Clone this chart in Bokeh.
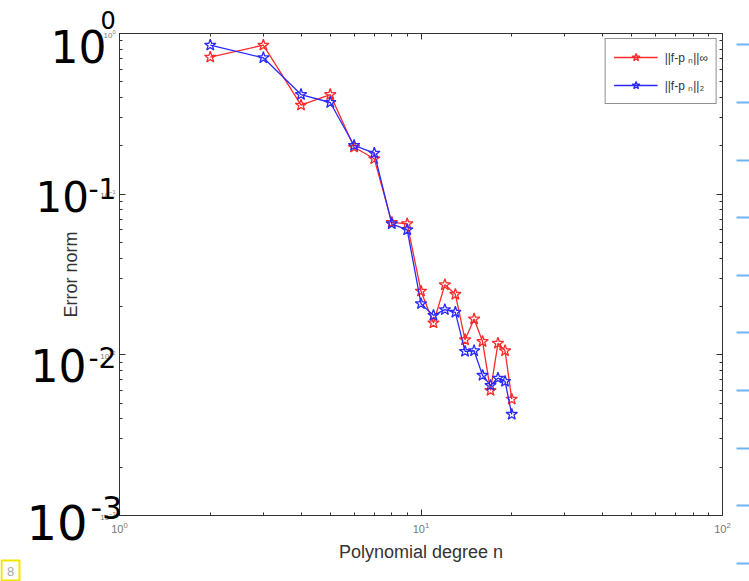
from bokeh.plotting import figure
from bokeh.layouts import column
from bokeh.models import LogAxis, FixedTicker, Legend, LegendItem, Range1d
from bokeh.core.properties import value
from bokeh.embed import file_html
from bokeh.resources import INLINE

# Polynomial degree and the two error norms of the interpolant
degree = [2, 3, 4, 5, 6, 7, 8, 9, 10, 11, 12, 13, 14, 15, 16, 17, 18, 19, 20]
err_inf = [0.712, 0.846, 0.358, 0.417, 0.196, 0.166, 0.0667, 0.0654, 0.0249,
           0.0158, 0.0273, 0.0238, 0.0124, 0.0167, 0.0121, 0.0060, 0.0118,
           0.0106, 0.0053]
err_two = [0.846, 0.706, 0.417, 0.372, 0.201, 0.180, 0.0654, 0.0600, 0.0208,
           0.0176, 0.0191, 0.0184, 0.0105, 0.0106, 0.00745, 0.00645, 0.00716,
           0.00683, 0.00426]

x_major = [1, 10, 100]
y_major = [1e-3, 1e-2, 1e-1, 1]

# hand-written decade notes beside the y axis
note_base = ["10", "10", "10", "10"]
note_exp = ["0", "-1", "-2", "-3"]

W, H = 749, 581
LEFT, RIGHT, TOP, BOTTOM = 119, 27, 33, 66

p = figure(width=W, height=H, x_axis_type="log", y_axis_type="log",
           x_range=(1, 100), y_range=(1e-3, 1),
           output_backend="svg", toolbar_location=None,
           min_border_left=LEFT, min_border_right=RIGHT,
           min_border_top=TOP, min_border_bottom=BOTTOM)
p.frame_align = False
p.xgrid.visible = False
p.ygrid.visible = False
p.outline_line_color = "#333333"
p.background_fill_color = "white"
p.border_fill_color = "white"


def minors(majors):
    out = []
    for m in majors[:-1]:
        out += [m * k for k in range(2, 10)]
    return out


def style_axis(ax, labels=True, size="10px"):
    ax.major_tick_in = 6
    ax.major_tick_out = 0
    ax.minor_tick_in = 3
    ax.minor_tick_out = 0
    ax.axis_line_color = "#333333"
    ax.major_tick_line_color = "#333333"
    ax.minor_tick_line_color = "#333333"
    ax.major_label_text_font = "Liberation Sans"
    ax.major_label_text_color = "#777777"
    ax.major_label_text_font_size = size if labels else "0px"
    if not labels:
        ax.major_label_text_alpha = 0


p.xaxis.ticker = FixedTicker(ticks=x_major, minor_ticks=minors(x_major))
p.yaxis.ticker = FixedTicker(ticks=y_major, minor_ticks=minors(y_major))
style_axis(p.xaxis[0], True, "11px")
style_axis(p.yaxis[0], True, "8px")
p.xaxis.major_label_standoff = 6
p.yaxis.major_label_standoff = 4

p.xaxis.axis_label = "Polynomial degree n"
p.yaxis.axis_label = "Error norm"
for ax in (p.xaxis[0], p.yaxis[0]):
    ax.axis_label_text_font = "Liberation Sans"
    ax.axis_label_text_font_size = "18px"
    ax.axis_label_text_font_style = "normal"
    ax.axis_label_text_color = "#333333"
p.xaxis.axis_label_standoff = 6
p.yaxis.axis_label_standoff = 16

top_ax = LogAxis(ticker=FixedTicker(ticks=x_major, minor_ticks=minors(x_major)))
right_ax = LogAxis(ticker=FixedTicker(ticks=y_major, minor_ticks=minors(y_major)))
style_axis(top_ax, False)
style_axis(right_ax, False)
p.add_layout(top_ax, "above")
p.add_layout(right_ax, "right")

# the two error curves
RED, BLUE = "#ff2a2a", "#2a2aff"
r_line = p.line(degree, err_inf, line_color=RED, line_width=1.3)
r_mark = p.scatter(degree, err_inf, marker="star", size=12, line_color=RED,
                   line_width=1.3, fill_color=None)
b_line = p.line(degree, err_two, line_color=BLUE, line_width=1.3)
b_mark = p.scatter(degree, err_two, marker="star", size=12, line_color=BLUE,
                   line_width=1.3, fill_color=None)

legend = Legend(items=[
    LegendItem(label="||f-p ₙ||∞", renderers=[r_line, r_mark]),
    LegendItem(label="||f-p ₙ||₂", renderers=[b_line, b_mark]),
], location="top_right")
legend.border_line_color = "#222222"
legend.border_line_width = 1
legend.label_text_font = "Liberation Sans"
legend.label_text_font_size = "12px"
legend.label_text_color = "#333333"
legend.glyph_width = 44
legend.glyph_height = 20
legend.label_standoff = 7
legend.padding = 8
legend.spacing = 8
legend.margin = 5
legend.background_fill_alpha = 1
p.add_layout(legend)

# transparent overlay in page pixels for the hand-written notes
ov = figure(width=W, height=H, x_range=Range1d(0, W), y_range=Range1d(H, 0),
            output_backend="svg", toolbar_location=None,
            x_axis_location=None, y_axis_location=None,
            min_border=0, min_border_left=0, min_border_right=0,
            min_border_top=0, min_border_bottom=0)
ov.frame_align = False
ov.xgrid.visible = False
ov.ygrid.visible = False
ov.outline_line_color = None
ov.background_fill_color = None
ov.border_fill_color = None
ov.styles = {"position": "absolute", "left": "0px", "top": "0px"}

base_x = [50, 35, 30, 26]
base_y = [46, 196, 365, 522]
base_size = ["44px", "42px", "44px", "48px"]
exp_x = [100, 88, 88, 90]
exp_y = [19, 188, 357, 507]
exp_size = ["24px", "28px", "28px", "32px"]

ov.text(x=base_x, y=base_y, text=note_base, text_font=value("DejaVu Sans"),
        text_font_size=base_size, text_color="black",
        text_baseline="middle", text_align="left")
ov.text(x=exp_x, y=exp_y, text=note_exp, text_font=value("DejaVu Sans"),
        text_font_size=exp_size, text_color="black",
        text_baseline="middle", text_align="left")

# ruled-paper dashes along the right margin
dash_y = [44, 102, 160, 217, 275, 332, 390, 448, 505, 563]
ov.segment(x0=[736] * len(dash_y), y0=dash_y, x1=[749] * len(dash_y), y1=dash_y,
           line_color="#6fb3f0", line_width=2)

# page number badge
ov.rect(x=[10], y=[570], width=[18], height=[20], fill_color="white",
        line_color="#f2e600", line_width=2)
ov.text(x=[10], y=[571], text=["8"], text_font=value("Liberation Sans"),
        text_font_size="13px", text_color="#aaaaaa",
        text_baseline="middle", text_align="center")

layout = column(p, ov)
open("out.html", "w").write(file_html(layout, INLINE))
